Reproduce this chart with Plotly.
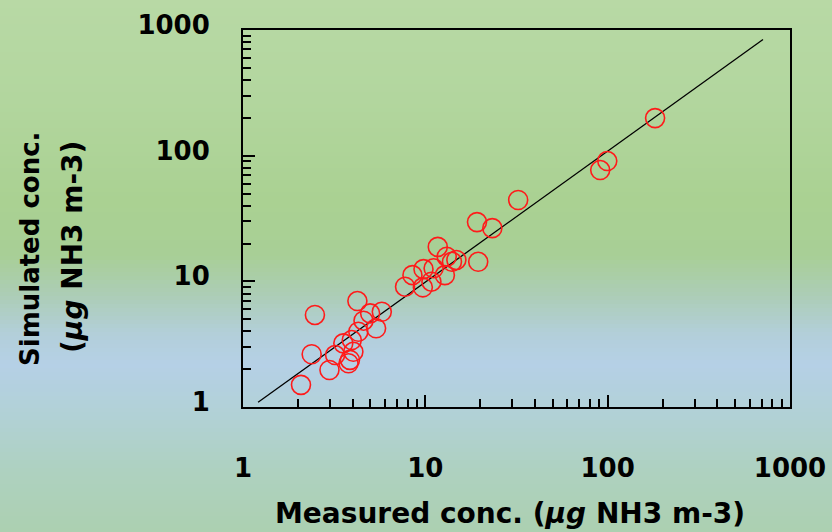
import plotly.graph_objects as go

# Measured vs simulated NH3 concentrations (µg NH3 m-3)
measured = [182, 99.5, 91, 32.3, 23.3, 19.2, 19.5, 11.7, 13.1, 14.8, 14.0, 12.8,
            11.1, 9.77, 8.5, 10.8, 9.69, 7.74, 5.77, 4.24, 2.48, 2.38, 2.08, 2.98,
            3.2, 3.79, 3.86, 4.03, 3.55, 3.95, 4.29, 4.58, 4.98, 5.37]
simulated = [199, 90.6, 76.8, 44.4, 26.5, 29.6, 14.3, 18.8, 15.7, 14.8, 14.3, 11.2,
             12.7, 12.5, 11.2, 9.93, 8.96, 9.06, 5.73, 6.97, 5.4, 2.63, 1.5, 1.97,
             2.59, 2.23, 2.37, 2.75, 3.21, 3.41, 3.97, 4.86, 5.56, 4.23]

# Regression line end points
fit_x = [1.21, 711]
fit_y = [1.09, 841]

tick_vals = [1, 10, 100, 1000]
tick_text = ["1", "10", "100", "1000"]

x_title = "Measured conc. (<i>µg</i> NH3 m-3)"
y_title_1 = "Simulated conc."
y_title_2 = "(<i>µg</i> NH3 m-3)"

# Canvas and plot-area geometry (pixels)
W, H = 832, 532
ML, MR, MT, MB = 243, 42, 30, 125
PW, PH = W - ML - MR, H - MT - MB

FONT = "DejaVu Sans"

# Vertical background gradient stops: (pixel row, rgb)
grad_stops = [
    (0, (184, 217, 165)),
    (100, (178, 214, 158)),
    (200, (170, 209, 146)),
    (255, (168, 207, 150)),
    (295, (172, 205, 182)),
    (335, (179, 207, 218)),
    (365, (181, 208, 230)),
    (420, (177, 209, 212)),
    (470, (174, 209, 192)),
    (532, (172, 208, 176)),
]


def px_to_paper_x(px):
    return (px - ML) / PW


def px_to_paper_y(py):
    return (H - MB - py) / PH


def grad_color(py):
    for (y0, c0), (y1, c1) in zip(grad_stops[:-1], grad_stops[1:]):
        if y0 <= py <= y1:
            t = (py - y0) / (y1 - y0)
            return "rgb(%d,%d,%d)" % tuple(round(a + (b - a) * t) for a, b in zip(c0, c1))
    return "rgb(%d,%d,%d)" % grad_stops[-1][1]


shapes = []
band = 4
for py in range(0, H, band):
    shapes.append(dict(
        type="rect", xref="paper", yref="paper", layer="below",
        x0=px_to_paper_x(0), x1=px_to_paper_x(W),
        y0=px_to_paper_y(py + band + 0.5), y1=px_to_paper_y(py),
        fillcolor=grad_color(py + band / 2), line=dict(width=0),
    ))

fig = go.Figure()
fig.add_trace(go.Scatter(
    x=fit_x, y=fit_y, mode="lines",
    line=dict(color="black", width=1.3), hoverinfo="skip", showlegend=False,
))
fig.add_trace(go.Scatter(
    x=measured, y=simulated, mode="markers",
    marker=dict(symbol="circle-open", size=19, color="#ff1a1a",
                line=dict(color="#ff1a1a", width=1.6)),
    showlegend=False,
))

axis_common = dict(
    type="log", range=[0, 3], showgrid=False, zeroline=False,
    showline=True, linecolor="black", linewidth=2, mirror=True,
    ticks="inside", ticklen=12, tickwidth=2, tickcolor="black",
    tickvals=tick_vals, ticktext=tick_text,
    tickfont=dict(family=FONT, size=26, color="black", weight="bold"),
    minor=dict(ticks="inside", ticklen=8, tickwidth=1.5, tickcolor="black",
               dtick="D1", showgrid=False),
)

fig.update_layout(
    width=W, height=H,
    margin=dict(l=ML, r=MR, t=MT, b=MB, autoexpand=False),
    paper_bgcolor="rgb(176,210,190)",
    plot_bgcolor="rgba(0,0,0,0)",
    shapes=shapes,
    xaxis=dict(axis_common, ticklabelstandoff=37),
    yaxis=dict(axis_common, ticklabelstandoff=26, ticklabelshift=-5),
    annotations=[
        dict(text=x_title, xref="paper", yref="paper",
             x=px_to_paper_x(510), y=px_to_paper_y(513),
             xanchor="center", yanchor="middle", showarrow=False,
             font=dict(family=FONT, size=28, color="black", weight="bold")),
        dict(text=y_title_1, xref="paper", yref="paper", textangle=-90,
             x=px_to_paper_x(30), y=px_to_paper_y(249),
             xanchor="center", yanchor="middle", showarrow=False,
             font=dict(family=FONT, size=26, color="black", weight="bold")),
        dict(text=y_title_2, xref="paper", yref="paper", textangle=-90,
             x=px_to_paper_x(72), y=px_to_paper_y(247),
             xanchor="center", yanchor="middle", showarrow=False,
             font=dict(family=FONT, size=28, color="black", weight="bold")),
    ],
)

fig.write_html("out.html")
